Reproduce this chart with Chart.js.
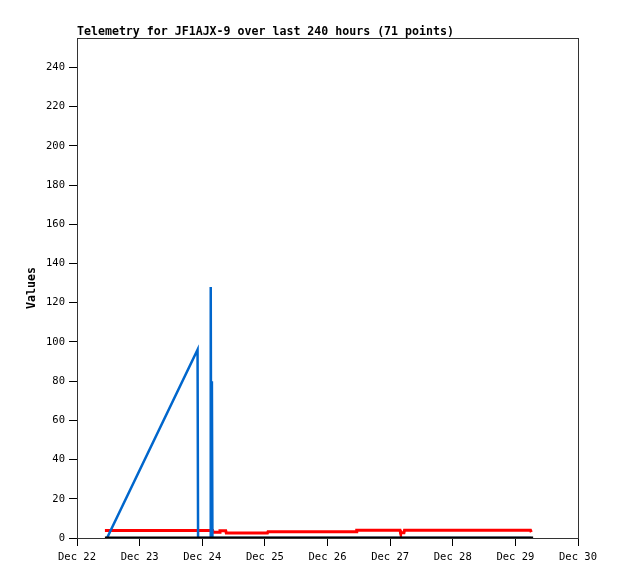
<!DOCTYPE html>
<html>
<head>
<meta charset="utf-8">
<script src="https://cdn.jsdelivr.net/npm/chart.js@4.4.1/dist/chart.umd.min.js"></script>
<style>
    body { margin: 0; background: #fff; }
    canvas { display: block; }
</style>
</head>
<body>
<canvas id="telemetryCanvas" width="618" height="579"></canvas>
<script>
// hours since Dec 22 00:00
var redHours = [10.7, 52.0, 52.2, 54.6, 54.8, 57.0, 57.2, 73.0, 73.2, 107.0, 107.2, 123.8, 124.0, 125.3, 125.5, 173.8, 174.1];
var redValues = [3.8, 3.8, 2.9, 2.9, 3.7, 3.7, 2.6, 2.6, 3.2, 3.2, 3.9, 3.9, 2.7, 2.7, 3.9, 3.9, 3.0];

var blueHours = [11.5, 46.2, 46.4, 51.1, 51.25, 51.45, 51.7, 51.9, 174.1];
var blueValues = [0, 96, 0, 0, 128, 0, 80, 0, 0];

var blackHours = [10.7, 174.8];
var blackValues = [0, 0];

var dayLabels = ['Dec 22', 'Dec 23', 'Dec 24', 'Dec 25', 'Dec 26', 'Dec 27', 'Dec 28', 'Dec 29', 'Dec 30'];
var titleText = 'Telemetry for JF1AJX-9 over last 240 hours (71 points)';
var yTitle = 'Values';

function toPoints(hours, values) {
    var pts = [];
    for (var i = 0; i < hours.length; i++) {
        pts.push({ x: hours[i], y: values[i] });
    }
    return pts;
}

var monoFont = '"DejaVu Sans Mono", "Liberation Mono", monospace';

var textPlugin = {
    id: 'textPlugin',
    afterDraw: function (chart) {
        var ctx = chart.ctx;
        var area = chart.chartArea;
        ctx.save();
        // frame
        ctx.strokeStyle = '#333';
        ctx.lineWidth = 1;
        ctx.strokeRect(area.left + 0.5, area.top + 0.5, area.right - area.left, area.bottom - area.top);
        // title
        ctx.fillStyle = '#000';
        ctx.font = 'bold 11.6px ' + monoFont;
        ctx.textAlign = 'left';
        ctx.textBaseline = 'alphabetic';
        ctx.fillText(titleText, area.left, 35);
        // y title
        ctx.translate(32, (area.top + area.bottom) / 2);
        ctx.rotate(-Math.PI / 2);
        ctx.textAlign = 'center';
        ctx.textBaseline = 'middle';
        ctx.fillText(yTitle, 0, 0);
        ctx.restore();
    }
};

var ctx = document.getElementById('telemetryCanvas');
var chart = new Chart(ctx, {
    type: 'line',
    data: {
        datasets: [{
            data: toPoints(blackHours, blackValues),
            borderColor: '#000000',
            borderWidth: 3,
            order: 0
        }, {
            data: toPoints(blueHours, blueValues),
            borderColor: '#0066cc',
            borderWidth: 2.5,
            order: 1
        }, {
            data: toPoints(redHours, redValues),
            borderColor: '#ff0000',
            borderWidth: 3,
            order: 2
        }]
    },
    options: {
        responsive: false,
        animation: false,
        layout: { padding: { top: 38, right: 40, left: 0, bottom: 0 } },
        elements: {
            point: { radius: 0 },
            line: { tension: 0, fill: false }
        },
        plugins: {
            legend: { display: false },
            title: { display: false },
            tooltip: { enabled: false }
        },
        scales: {
            x: {
                type: 'linear',
                min: 0,
                max: 192,
                afterFit: function (scale) { scale.height = 41; },
                grid: { drawOnChartArea: false, tickLength: 8, tickColor: '#000' },
                border: { color: '#000' },
                ticks: {
                    stepSize: 24,
                    maxRotation: 0,
                    padding: 5,
                    color: '#000',
                    font: { family: monoFont, size: 10.5 },
                    callback: function (v) { return dayLabels[Math.round(v / 24)]; }
                }
            },
            y: {
                min: 0,
                max: 255,
                afterFit: function (scale) { scale.width = 77; },
                grid: { drawOnChartArea: false, tickLength: 8, tickColor: '#000' },
                border: { color: '#000' },
                ticks: {
                    stepSize: 20,
                    includeBounds: false,
                    padding: 4,
                    color: '#000',
                    font: { family: monoFont, size: 10.5 }
                }
            }
        }
    },
    plugins: [textPlugin]
});
</script>
</body>
</html>
